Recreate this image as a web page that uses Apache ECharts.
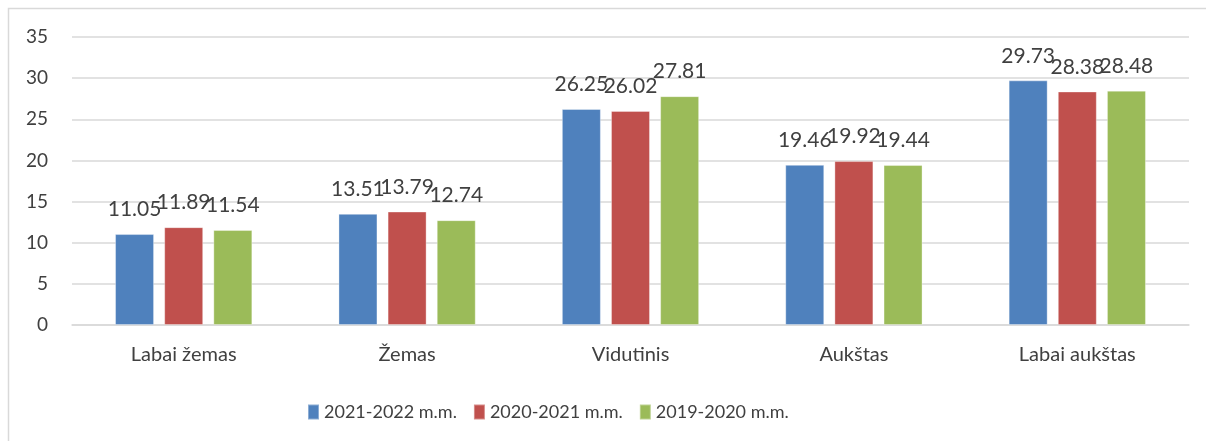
<!DOCTYPE html>
<html>
<head>
<meta charset="utf-8">
<script src="https://cdn.jsdelivr.net/npm/echarts@6/dist/echarts.min.js"></script>
<style>
html,body{margin:0;padding:0;background:#fff;}
#chart{width:1206px;height:441px;}
</style>
</head>
<body>
<div id="chart"></div>
<script>
const categories = ['Labai žemas', 'Žemas', 'Vidutinis', 'Aukštas', 'Labai aukštas'];
const seriesNames = ['2021-2022 m.m.', '2020-2021 m.m.', '2019-2020 m.m.'];
const s2122 = [11.05, 13.51, 26.25, 19.46, 29.73];
const s2021 = [11.89, 13.79, 26.02, 19.92, 28.38];
const s1920 = [11.54, 12.74, 27.81, 19.44, 28.48];
const colors = ['#4F81BD', '#C0504D', '#9BBB59'];

const FONT = 'Lato';
const chart = echarts.init(document.getElementById('chart'), null, {renderer: 'canvas'});
const dataSets = [s2122, s2021, s1920];
const series = dataSets.map((d, i) => ({
  name: seriesNames[i],
  type: 'bar',
  data: d,
  barWidth: 39,
  barGap: '26%',
  itemStyle: {color: colors[i], borderColor: 'rgba(255,255,255,0.35)', borderWidth: 1},
  label: {
    show: true,
    position: 'top',
    distance: 14,
    color: '#404040',
    fontFamily: FONT,
    fontSize: 21,
    formatter: p => p.value.toFixed(2)
  },
  emphasis: {disabled: true}
}));

chart.setOption({
  animation: false,
  backgroundColor: '#fff',
  graphic: [{
    type: 'rect',
    shape: {x: 8.5, y: 8.5, width: 1300, height: 500},
    style: {fill: 'none', stroke: '#D9D9D9', lineWidth: 1.5},
    silent: true
  }],
  grid: {left: 72, right: 17, top: 37, bottom: 116, containLabel: false},
  legend: {
    data: seriesNames,
    left: 302,
    top: 398,
    itemWidth: 11,
    itemHeight: 15,
    itemGap: 16,
    icon: 'rect',
    textStyle: {color: '#404040', fontFamily: FONT, fontSize: 18}
  },
  xAxis: {
    type: 'category',
    data: categories,
    axisLine: {show: true, lineStyle: {color: '#D9D9D9', width: 1.5}},
    axisTick: {show: false},
    axisLabel: {color: '#404040', fontFamily: FONT, fontSize: 20, margin: 20}
  },
  yAxis: {
    type: 'value',
    min: 0,
    max: 35,
    interval: 5,
    axisLine: {show: false},
    axisTick: {show: false},
    axisLabel: {color: '#404040', fontFamily: FONT, fontSize: 19, margin: 24},
    splitLine: {lineStyle: {color: '#D9D9D9', width: 1.5}}
  },
  series: series
});
</script>
</body>
</html>
